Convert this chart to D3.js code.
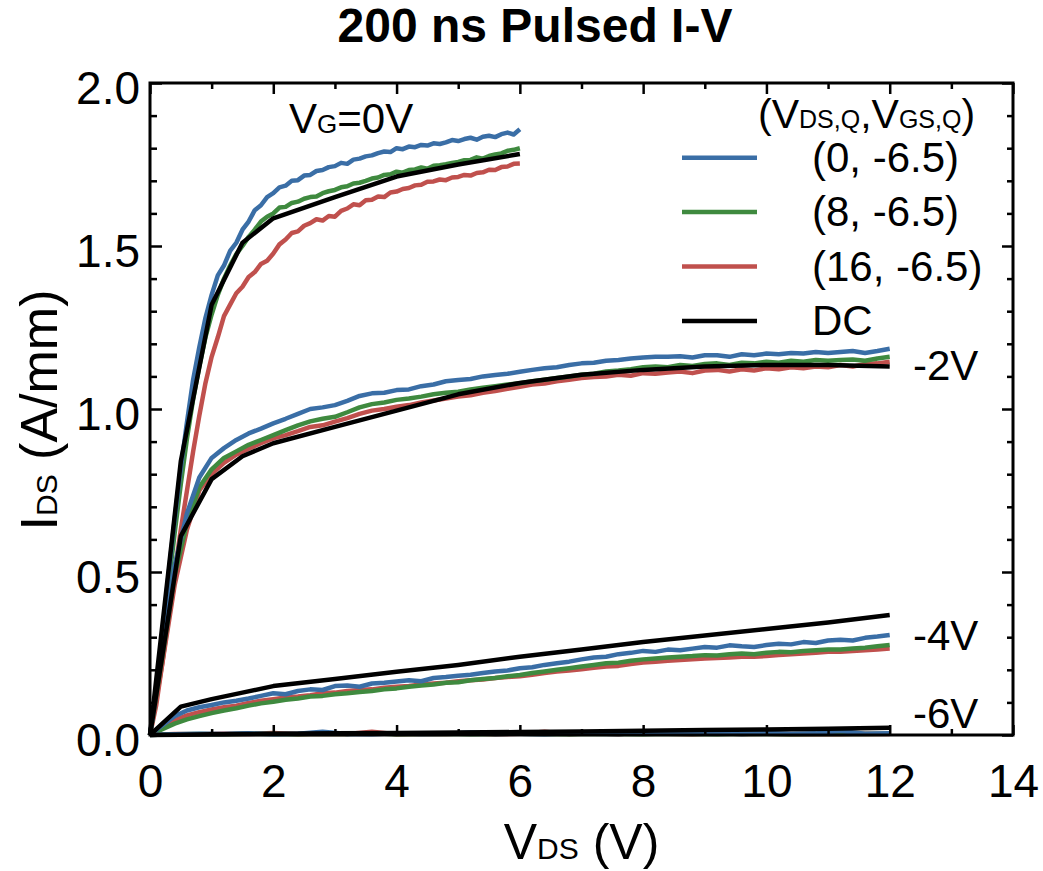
<!DOCTYPE html>
<html><head><meta charset="utf-8">
<script src="https://cdn.jsdelivr.net/npm/d3@7"></script>
<style>body{margin:0;background:#fff}svg text{font-family:"Liberation Sans",Arial,sans-serif}</style>
</head><body><svg id="c" width="1043" height="871"></svg>
<script>
// ---------- DATA ----------
const xTicks = [0,2,4,6,8,10,12,14];
const xMinor = [1,3,5,7,9,11,13];
const yTicks = [0,0.5,1.0,1.5,2.0];
const yMinor = [0.1,0.2,0.3,0.4,0.6,0.7,0.8,0.9,1.1,1.2,1.3,1.4,1.6,1.7,1.8,1.9];
const seriesNames = ["(0, -6.5)","(8, -6.5)","(16, -6.5)","DC"];
const gateLabels = ["-2V","-4V","-6V"];

// V_DS sampling grids of the pulsed traces
const vds01 = [0,0.1,0.2,0.3,0.4,0.5,0.6,0.7,0.8,0.9,1.0,1.1,1.2,1.3,1.4,1.5,1.6,1.7,1.8,1.9,2.0,2.1,2.2,2.3,2.4,2.5,2.6,2.7,2.8,2.9,3.0,3.1,3.2,3.3,3.4,3.5,3.6,3.7,3.8,3.9,4.0,4.1,4.2,4.3,4.4,4.5,4.6,4.7,4.8,4.9,5.0,5.1,5.2,5.3,5.4,5.5,5.6,5.7,5.8,5.9,6.0];
const vds02 = [0,0.2,0.4,0.6,0.8,1.0,1.2,1.4,1.6,1.8,2.0,2.2,2.4,2.6,2.8,3.0,3.2,3.4,3.6,3.8,4.0,4.2,4.4,4.6,4.8,5.0,5.2,5.4,5.6,5.8,6.0,6.2,6.4,6.6,6.8,7.0,7.2,7.4,7.6,7.8,8.0,8.2,8.4,8.6,8.8,9.0,9.2,9.4,9.6,9.8,10.0,10.2,10.4,10.6,10.8,11.0,11.2,11.4,11.6,11.8,12.0];
const vds04 = [0,0.4,0.8,1.2,1.6,2.0,2.4,2.8,3.2,3.6,4.0,4.4,4.8,5.2,5.6,6.0,6.4,6.8,7.2,7.6,8.0,8.4,8.8,9.2,9.6,10.0,10.4,10.8,11.2,11.6,12.0];

// V_G = 0 V
const blueVg0 = [0,0.13,0.31,0.49,0.66,0.82,0.96,1.09,1.19,1.28,1.35,1.41,1.44,1.485,1.51,1.55,1.575,1.61,1.625,1.65,1.662,1.68,1.685,1.70,1.702,1.716,1.718,1.73,1.733,1.742,1.745,1.755,1.752,1.765,1.768,1.775,1.778,1.785,1.79,1.788,1.80,1.797,1.805,1.803,1.81,1.808,1.815,1.813,1.818,1.825,1.822,1.828,1.832,1.826,1.835,1.838,1.834,1.843,1.848,1.842,1.858];
const greenVg0 = [0,0.12,0.29,0.46,0.62,0.77,0.91,1.03,1.13,1.22,1.29,1.35,1.40,1.44,1.475,1.50,1.528,1.55,1.575,1.59,1.60,1.618,1.62,1.632,1.636,1.645,1.65,1.652,1.662,1.668,1.672,1.68,1.683,1.692,1.694,1.70,1.707,1.71,1.718,1.72,1.728,1.725,1.733,1.735,1.741,1.737,1.746,1.748,1.751,1.755,1.758,1.763,1.764,1.772,1.768,1.776,1.781,1.784,1.792,1.795,1.80];
const redVg0 = [0,0.09,0.22,0.36,0.50,0.63,0.75,0.87,0.98,1.08,1.16,1.22,1.285,1.32,1.355,1.375,1.405,1.42,1.445,1.455,1.477,1.505,1.52,1.54,1.545,1.562,1.57,1.582,1.578,1.592,1.59,1.608,1.615,1.628,1.625,1.64,1.642,1.652,1.65,1.664,1.667,1.675,1.678,1.686,1.688,1.697,1.698,1.704,1.702,1.71,1.712,1.718,1.716,1.724,1.726,1.734,1.733,1.742,1.744,1.752,1.753];

// V_G = -2 V
const blueVg2 = [0,0.26,0.52,0.68,0.79,0.85,0.88,0.905,0.925,0.94,0.956,0.97,0.985,1.0,1.005,1.012,1.025,1.04,1.048,1.05,1.058,1.06,1.07,1.075,1.085,1.089,1.092,1.10,1.104,1.108,1.114,1.12,1.125,1.128,1.135,1.14,1.142,1.148,1.15,1.155,1.158,1.16,1.16,1.162,1.158,1.165,1.165,1.16,1.168,1.165,1.17,1.168,1.172,1.17,1.175,1.172,1.175,1.178,1.172,1.178,1.185];
const greenVg2 = [0,0.24,0.49,0.65,0.76,0.815,0.85,0.87,0.89,0.905,0.92,0.935,0.95,0.962,0.97,0.976,0.99,1.005,1.015,1.02,1.028,1.032,1.038,1.045,1.05,1.053,1.06,1.065,1.07,1.075,1.079,1.085,1.09,1.095,1.10,1.105,1.108,1.115,1.118,1.122,1.128,1.13,1.128,1.135,1.132,1.138,1.14,1.135,1.142,1.14,1.145,1.142,1.148,1.145,1.15,1.148,1.15,1.152,1.148,1.155,1.16];
const redVg2 = [0,0.22,0.46,0.63,0.75,0.80,0.835,0.86,0.878,0.895,0.91,0.92,0.932,0.945,0.95,0.961,0.972,0.985,0.995,1.0,1.007,1.012,1.02,1.026,1.032,1.038,1.042,1.05,1.055,1.062,1.068,1.075,1.078,1.085,1.09,1.095,1.098,1.10,1.105,1.102,1.11,1.108,1.112,1.115,1.11,1.118,1.12,1.115,1.122,1.118,1.125,1.122,1.128,1.125,1.13,1.128,1.135,1.13,1.138,1.14,1.145];

// V_G = -4 V
const blueVg4 = [0,0.03,0.058,0.075,0.085,0.092,0.10,0.105,0.112,0.12,0.128,0.125,0.135,0.14,0.138,0.15,0.152,0.148,0.158,0.16,0.164,0.168,0.165,0.175,0.178,0.182,0.185,0.19,0.195,0.198,0.205,0.208,0.215,0.22,0.225,0.232,0.238,0.24,0.248,0.252,0.258,0.255,0.262,0.26,0.265,0.27,0.268,0.275,0.272,0.27,0.276,0.28,0.278,0.285,0.282,0.29,0.292,0.29,0.298,0.302,0.307];
const greenVg4 = [0,0.018,0.035,0.048,0.058,0.067,0.075,0.082,0.09,0.097,0.102,0.108,0.112,0.118,0.12,0.125,0.128,0.132,0.135,0.14,0.143,0.148,0.152,0.155,0.16,0.162,0.168,0.172,0.175,0.18,0.184,0.19,0.195,0.20,0.205,0.21,0.215,0.22,0.222,0.228,0.232,0.235,0.238,0.24,0.242,0.245,0.244,0.248,0.25,0.248,0.252,0.255,0.254,0.258,0.26,0.262,0.262,0.265,0.268,0.272,0.276];
const redVg4 = [0,0.025,0.045,0.06,0.07,0.078,0.085,0.09,0.098,0.105,0.11,0.115,0.118,0.122,0.128,0.13,0.135,0.138,0.14,0.145,0.148,0.15,0.155,0.158,0.16,0.165,0.168,0.17,0.175,0.178,0.18,0.185,0.19,0.195,0.198,0.202,0.206,0.21,0.212,0.218,0.222,0.225,0.228,0.23,0.232,0.235,0.236,0.238,0.24,0.24,0.242,0.245,0.248,0.25,0.252,0.255,0.255,0.258,0.26,0.262,0.265];

// V_G = -6 V
const blueVg6 = [0,0.002,0.004,0.003,0.005,0.002,0.004,0.010,0.003,0.002,0.005,0.003,0.004,0.008,0.003,0.004,0.002,0.005,0.004,0.003,0.006,0.010,0.004,0.005,0.003,0.006,0.004,0.005,0.012,0.004,0.005];
const greenVg6 = [0,0.002,0.003,0.002,0.004,0.003,0.002,0.004,0.003,0.005,0.002,0.003,0.004,0.002,0.003,0.004,0.003,0.002,0.004,0.003,0.002,0.004,0.003,0.002,0.004,0.003,0.002,0.003,0.004,0.003,0.004];
const redVg6 = [0,0.003,0.002,0.004,0.003,0.006,0.002,0.004,0.003,0.010,0.002,0.004,0.003,0.005,0.002,0.004,0.010,0.003,0.005,0.002,0.009,0.004,0.002,0.005,0.003,0.004,0.002,0.003,0.002,0.004,0.003];

// DC curves
const dcVdsVg0 = [0,0.5,1,1.5,2,3,4,5,6];
const dcVg0 = [0,0.84,1.32,1.51,1.585,1.65,1.713,1.75,1.782];
const dcVds = [0,0.5,1,1.5,2,3,4,5,6,7,8,9,10,11,12];
const dcVg2 = [0,0.61,0.785,0.855,0.895,0.945,0.995,1.045,1.08,1.105,1.12,1.13,1.135,1.135,1.13];
const dcVg4 = [0,0.087,0.11,0.13,0.15,0.172,0.194,0.215,0.24,0.262,0.285,0.305,0.325,0.345,0.368];
const dcVg6 = [0,0.001,0.002,0.003,0.004,0.005,0.006,0.008,0.009,0.011,0.013,0.015,0.017,0.019,0.022];

// ---------- DRAW ----------
const colors = ["#3a6ea6","#3f8a3f","#c0504d","#000000"];
const svg = d3.select("#c");
const L=150,R=1013,T=83,B=735;
const x = d3.scaleLinear().domain([0,14]).range([L,R]);
const y = d3.scaleLinear().domain([0,2]).range([B,T]);
const zip = (xs,ys)=>ys.slice(0,Math.min(xs.length,ys.length)).map((v,i)=>[xs[i],v]);
const line = d3.line().x(d=>x(d[0])).y(d=>y(d[1]));

const curves = [
  [vds01,redVg0,2],[vds01,greenVg0,1],[vds01,blueVg0,0],
  [vds02,redVg2,2],[vds02,greenVg2,1],[vds02,blueVg2,0],
  [vds02,redVg4,2],[vds02,greenVg4,1],[vds02,blueVg4,0],
  [vds04,redVg6,2],[vds04,greenVg6,1],[vds04,blueVg6,0],
  [dcVdsVg0,dcVg0,3],[dcVds,dcVg2,3],[dcVds,dcVg4,3],[dcVds,dcVg6,3]
];
svg.append("g").selectAll("path").data(curves).join("path")
  .attr("d",c=>line(zip(c[0],c[1])))
  .attr("fill","none").attr("stroke",c=>colors[c[2]])
  .attr("stroke-width",4.5).attr("stroke-linejoin","round").attr("stroke-linecap","butt");

// axes
function styleAxis(g){ g.select(".domain").remove(); g.selectAll("line").attr("stroke","#000").attr("stroke-width",2.5); }
svg.append("g").attr("transform",`translate(0,${B})`)
  .call(d3.axisBottom(x).tickValues(xTicks).tickSize(-10).tickPadding(29).tickFormat(d3.format("d")))
  .call(styleAxis).call(g=>g.selectAll("text").attr("font-size",46).attr("fill","#000").attr("font-family","Liberation Sans, Arial, sans-serif"));
svg.append("g").attr("transform",`translate(0,${B})`).call(d3.axisBottom(x).tickValues(xMinor).tickSize(-6).tickFormat("")).call(styleAxis);
svg.append("g").attr("transform",`translate(0,${T})`).call(d3.axisTop(x).tickValues(xTicks).tickSize(-11).tickFormat("")).call(styleAxis);
svg.append("g").attr("transform",`translate(0,${T})`).call(d3.axisTop(x).tickValues(xMinor).tickSize(-6).tickFormat("")).call(styleAxis);
svg.append("g").attr("transform",`translate(${L},0)`)
  .call(d3.axisLeft(y).tickValues(yTicks).tickSize(-12).tickPadding(10).tickFormat(d3.format(".1f")))
  .call(styleAxis).call(g=>g.selectAll("text").attr("font-size",46).attr("fill","#000").attr("dy","0.45em").attr("font-family","Liberation Sans, Arial, sans-serif"));
svg.append("g").attr("transform",`translate(${L},0)`).call(d3.axisLeft(y).tickValues(yMinor).tickSize(-7).tickFormat("")).call(styleAxis);
svg.append("g").attr("transform",`translate(${R},0)`).call(d3.axisRight(y).tickValues(yTicks).tickSize(-11).tickFormat("")).call(styleAxis);
svg.append("g").attr("transform",`translate(${R},0)`).call(d3.axisRight(y).tickValues(yMinor).tickSize(-6).tickFormat("")).call(styleAxis);
svg.append("rect").attr("x",L).attr("y",T).attr("width",R-L).attr("height",B-T)
  .attr("fill","none").attr("stroke","#000").attr("stroke-width",3);

// title
svg.append("text").attr("x",535).attr("y",42).attr("text-anchor","middle")
  .attr("font-size",48).attr("font-weight","bold").text("200 ns Pulsed I-V");

// axis titles
const xt = svg.append("text").attr("x",(L+R)/2).attr("y",859).attr("text-anchor","middle").attr("font-size",50);
xt.append("tspan").text("V"); xt.append("tspan").attr("font-size",30).text("DS"); xt.append("tspan").text(" (V)");
const yt = svg.append("text").attr("transform","translate(57,410) rotate(-90)").attr("text-anchor","middle").attr("font-size",52);
yt.append("tspan").text("I"); yt.append("tspan").attr("font-size",30).text("DS"); yt.append("tspan").text(" (A/mm)");

// V_G = 0V label
const vg = svg.append("text").attr("x",289).attr("y",133).attr("font-size",42);
vg.append("tspan").text("V"); vg.append("tspan").attr("font-size",26).text("G"); vg.append("tspan").text("=0V");

// gate labels
svg.append("g").selectAll("text").data(gateLabels).join("text")
  .attr("x",913).attr("y",(d,i)=>[380,650,728][i]).attr("font-size",42).text(d=>d);

// legend
const lt = svg.append("text").attr("x",758).attr("y",128).attr("font-size",41);
lt.append("tspan").text("(V"); lt.append("tspan").attr("font-size",25).text("DS,Q");
lt.append("tspan").text(",V"); lt.append("tspan").attr("font-size",25).text("GS,Q"); lt.append("tspan").text(")");
const lg = svg.append("g").selectAll("g").data(seriesNames).join("g")
  .attr("transform",(d,i)=>`translate(0,${157.7+i*54.4})`);
lg.append("line").attr("x1",682).attr("x2",757).attr("stroke",(d,i)=>colors[i]).attr("stroke-width",4.5);
lg.append("text").attr("x",812).attr("y",14).attr("font-size",42).text(d=>d);
</script></body></html>
